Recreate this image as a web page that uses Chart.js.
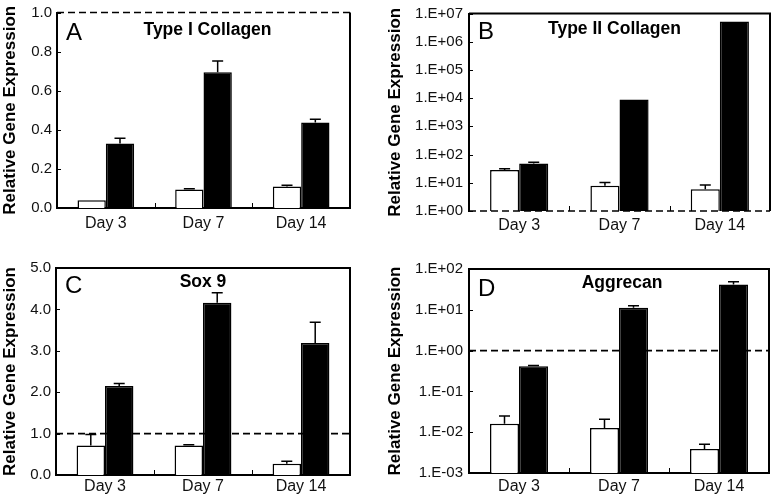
<!DOCTYPE html>
<html><head><meta charset="utf-8">
<script src="https://cdn.jsdelivr.net/npm/chart.js@4/dist/chart.umd.min.js"></script>
<style>
html,body{margin:0;padding:0;background:#fff;}
body{width:771px;height:496px;position:relative;overflow:hidden;}
.panel{position:absolute;}
</style></head><body>
<div class="panel" style="left:0;top:0;width:385px;height:240px"><canvas id="cA"></canvas></div>
<div class="panel" style="left:385px;top:0;width:386px;height:240px"><canvas id="cB"></canvas></div>
<div class="panel" style="left:0;top:240px;width:385px;height:256px"><canvas id="cC"></canvas></div>
<div class="panel" style="left:385px;top:240px;width:386px;height:256px"><canvas id="cD"></canvas></div>
<script>
// ---- data ----
const categories = ['Day 3', 'Day 7', 'Day 14'];
const yAxisTitle = 'Relative Gene Expression';

// A: Type I Collagen (linear)
const typeIWhite = [0.04, 0.095, 0.11];
const typeIWhiteErr = [0.0, 0.004, 0.006];
const typeIBlack = [0.33, 0.695, 0.437];
const typeIBlackErr = [0.027, 0.057, 0.017];
const typeITicks = [0, 0.2, 0.4, 0.6, 0.8, 1.0];
const typeITickLabels = ['0.0', '0.2', '0.4', '0.6', '0.8', '1.0'];

// B: Type II Collagen (log)
const typeIIWhite = [28.4, 7.9, 5.9];
const typeIIWhiteErr = [3.1, 2.4, 2.5];
const typeIIBlack = [48.4, 9000, 5.25e6];
const typeIIBlackErr = [5.3, 0, 0];
const typeIITicks = [1, 10, 100, 1e3, 1e4, 1e5, 1e6, 1e7];
const typeIITickLabels = ['1.E+00', '1.E+01', '1.E+02', '1.E+03', '1.E+04', '1.E+05', '1.E+06', '1.E+07'];

// C: Sox 9 (linear)
const sox9White = [0.71, 0.71, 0.27];
const sox9WhiteErr = [0.27, 0.02, 0.06];
const sox9Black = [2.15, 4.16, 3.19];
const sox9BlackErr = [0.06, 0.24, 0.5];
const sox9Ticks = [0, 1, 2, 3, 4, 5];
const sox9TickLabels = ['0.0', '1.0', '2.0', '3.0', '4.0', '5.0'];

// D: Aggrecan (log)
const aggWhite = [0.016, 0.0126, 0.0039];
const aggWhiteErr = [0.0088, 0.0083, 0.0012];
const aggBlack = [0.413, 11.2, 41.8];
const aggBlackErr = [0.017, 1.3, 6.6];
const aggTicks = [1e-3, 1e-2, 1e-1, 1, 10, 100];
const aggTickLabels = ['1.E-03', '1.E-02', '1.E-01', '1.E+00', '1.E+01', '1.E+02'];

const referenceLevel = 1.0;

// ---- drawing ----
const FONT = "'Liberation Sans', Arial, Helvetica, sans-serif";

const panelPlugin = {
  id: 'panel',
  afterDatasetsDraw(chart) {
    const p = chart.options.plugins.panel;
    const {ctx, chartArea: a} = chart;
    const x = chart.scales.x, y = chart.scales.y;
    ctx.save();
    // error bars (upper only)
    chart.data.datasets.forEach((ds, di) => {
      const meta = chart.getDatasetMeta(di);
      meta.data.forEach((bar, i) => {
        const e = ds.errors[i];
        if (!e) return;
        const yt = y.getPixelForValue(ds.data[i] + e);
        ctx.strokeStyle = '#000';
        ctx.lineWidth = 1.5;
        ctx.beginPath();
        ctx.moveTo(bar.x, bar.y);
        ctx.lineTo(bar.x, yt);
        ctx.moveTo(bar.x - 5.5, yt);
        ctx.lineTo(bar.x + 5.5, yt);
        ctx.stroke();
      });
    });
    const ry = y.getPixelForValue(p.ref);
    // frame (top & right)
    ctx.strokeStyle = '#000';
    ctx.lineWidth = 2;
    ctx.beginPath();
    if (Math.abs(ry - a.top) > 2) { ctx.moveTo(a.left, a.top); ctx.lineTo(a.right, a.top); }
    else { ctx.moveTo(a.right, a.top); }
    ctx.lineTo(a.right, a.bottom);
    ctx.stroke();
    // reference dashed line
    ctx.lineWidth = 1.6;
    ctx.setLineDash([7, 4]);
    ctx.beginPath();
    ctx.moveTo(a.left, ry);
    ctx.lineTo(a.right, ry);
    ctx.stroke();
    ctx.setLineDash([]);
    // inward ticks
    ctx.lineWidth = 1;
    ctx.beginPath();
    y.ticks.forEach(t => {
      const py = Math.round(y.getPixelForValue(t.value)) + 0.5;
      ctx.moveTo(a.left, py); ctx.lineTo(a.left + 4, py);
    });
    for (let i = 0; i < categories.length - 1; i++) {
      const px = Math.round((x.getPixelForValue(i) + x.getPixelForValue(i + 1)) / 2) + 0.5;
      ctx.moveTo(px, a.bottom); ctx.lineTo(px, a.bottom - 5);
    }
    ctx.stroke();
    // letter and title
    ctx.fillStyle = '#000';
    ctx.textBaseline = 'alphabetic';
    ctx.textAlign = 'left';
    ctx.font = '24px ' + FONT;
    ctx.fillText(p.letter, a.left + 9, a.top + p.letterDy);
    ctx.textAlign = 'center';
    ctx.font = 'bold 17.5px ' + FONT;
    ctx.fillText(p.title, (a.left + a.right) / 2 + p.titleDx, a.top + p.titleDy);
    ctx.restore();
  }
};

function makeChart(id, cfg) {
  const yFont = {family: FONT, size: 15, lineHeight: 1};
  const xFont = {family: FONT, size: 16, lineHeight: 1};
  new Chart(document.getElementById(id), {
    type: 'bar',
    data: {
      labels: categories,
      datasets: [
        {data: cfg.white, errors: cfg.whiteErr, backgroundColor: '#fff', borderColor: '#000', borderWidth: 1.5,
         categoryPercentage: 0.58, barPercentage: 1},
        {data: cfg.black, errors: cfg.blackErr, backgroundColor: '#000', borderColor: '#000', borderWidth: 1.5,
         categoryPercentage: 0.58, barPercentage: 1}
      ]
    },
    options: {
      responsive: true, maintainAspectRatio: false, animation: false,
      layout: {padding: {top: cfg.padTop, right: cfg.padRight, left: 0, bottom: 0}},
      plugins: {
        legend: {display: false}, tooltip: {enabled: false},
        panel: {ref: referenceLevel, letter: cfg.letter, title: cfg.title, letterDy: cfg.letterDy,
                titleDy: cfg.titleDy, titleDx: cfg.titleDx}
      },
      scales: {
        x: {
          grid: {display: false, drawTicks: false},
          border: {display: cfg.xBorder, color: '#000', width: 2},
          ticks: {font: xFont, color: '#111', padding: cfg.xPad, maxRotation: 0},
          afterFit(s) { s.height = cfg.xH; }
        },
        y: {
          type: cfg.type, min: cfg.ticks[0], max: cfg.ticks[cfg.ticks.length - 1],
          grid: {display: false, drawTicks: false},
          border: {display: true, color: '#000', width: 2},
          ticks: {font: yFont, color: '#111', padding: cfg.yPad, autoSkip: false,
                  callback: (v, i) => cfg.tickLabels[i]},
          title: {display: true, text: yAxisTitle, color: '#000', padding: {top: 0, bottom: 0},
                  font: {family: FONT, size: 17, weight: 'bold'}},
          afterBuildTicks(s) { s.ticks = cfg.ticks.map(v => ({value: v})); },
          afterFit(s) { s.width = cfg.yW; }
        }
      }
    },
    plugins: [panelPlugin]
  });
}

makeChart('cA', {type: 'linear', white: typeIWhite, whiteErr: typeIWhiteErr, black: typeIBlack, blackErr: typeIBlackErr,
  ticks: typeITicks, tickLabels: typeITickLabels, letter: 'A', title: 'Type I Collagen',
  padTop: 7, padRight: 35, yW: 57, xH: 32, xPad: 8, yPad: 5, xBorder: true, letterDy: 27, titleDy: 22, titleDx: 4});
makeChart('cB', {type: 'logarithmic', white: typeIIWhite, whiteErr: typeIIWhiteErr, black: typeIIBlack, blackErr: typeIIBlackErr,
  ticks: typeIITicks, tickLabels: typeIITickLabels, letter: 'B', title: 'Type II Collagen',
  padTop: 9, padRight: 1, yW: 84, xH: 29, xPad: 7, yPad: 6, xBorder: false, letterDy: 25, titleDy: 20, titleDx: -5});
makeChart('cC', {type: 'linear', white: sox9White, whiteErr: sox9WhiteErr, black: sox9Black, blackErr: sox9BlackErr,
  ticks: sox9Ticks, tickLabels: sox9TickLabels, letter: 'C', title: 'Sox 9',
  padTop: 28, padRight: 35, yW: 56, xH: 21, xPad: 4, yPad: 5, xBorder: true, letterDy: 25, titleDy: 19, titleDx: 0});
makeChart('cD', {type: 'logarithmic', white: aggWhite, whiteErr: aggWhiteErr, black: aggBlack, blackErr: aggBlackErr,
  ticks: aggTicks, tickLabels: aggTickLabels, letter: 'D', title: 'Aggrecan',
  padTop: 29, padRight: 2, yW: 84, xH: 23, xPad: 6, yPad: 6, xBorder: true, letterDy: 27, titleDy: 19, titleDx: 3});
</script>
</body></html>
